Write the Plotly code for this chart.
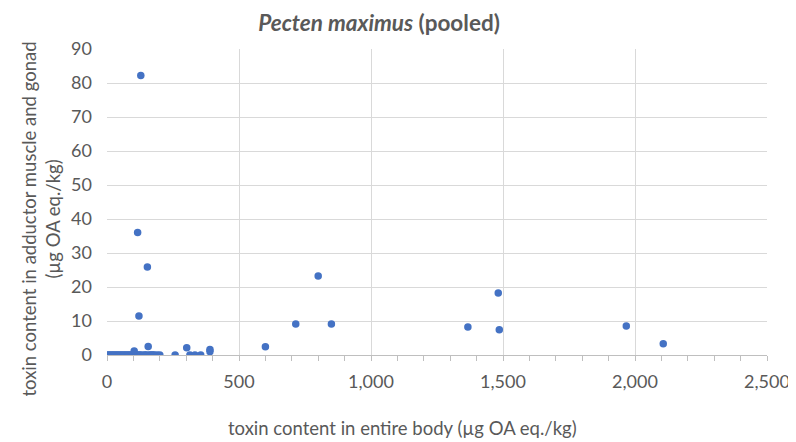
import plotly.graph_objects as go

# Data
entire_body = [0, 5, 10, 15, 20, 25, 30, 35, 40, 45, 50, 55, 60, 65, 70, 75, 80, 85, 90, 95,
               100, 110, 115, 120, 125, 130, 140, 145, 150, 160, 165, 170, 175, 180, 190, 200,
               103, 156, 258, 302, 314, 333, 355, 390, 390, 600,
               128, 116, 153, 121,
               715, 800, 850, 1367, 1482, 1486, 1967, 2107]
adductor_gonad = [0, 0, 0, 0, 0, 0, 0, 0, 0, 0, 0, 0, 0, 0, 0, 0, 0, 0, 0, 0,
                  0, 0, 0, 0, 0, 0, 0, 0, 0, 0, 0, 0, 0, 0, 0, 0,
                  1.2, 2.5, 0, 2.1, 0, 0, 0, 1.6, 1.0, 2.4,
                  82.2, 36.0, 25.9, 11.5,
                  9.1, 23.2, 9.1, 8.2, 18.2, 7.4, 8.5, 3.3]

x_ticks = [0, 500, 1000, 1500, 2000, 2500]
x_tick_labels = ["0", "500", "1,000", "1,500", "2,000", "2,500"]
y_ticks = [0, 10, 20, 30, 40, 50, 60, 70, 80, 90]

title_text = "<b><i>Pecten maximus</i> (pooled)</b>"
x_title = "toxin content in entire body (µg OA eq./kg)"
y_title = "toxin content in adductor muscle and gonad<br>(µg OA eq./kg)"

FONT = "Lato, 'Open Sans', sans-serif"
GRAY = "#595959"
GRID = "#D9D9D9"

fig = go.Figure(go.Scatter(
    x=entire_body, y=adductor_gonad, mode="markers",
    marker=dict(color="#4472C4", size=7.5, line=dict(width=0)),
    showlegend=False,
))

fig.update_layout(
    width=788, height=434,
    margin=dict(l=99, r=29, t=41, b=87),
    paper_bgcolor="white", plot_bgcolor="white",
    font=dict(family=FONT, color=GRAY, size=18),
    title=dict(text=title_text,
               x=371 / 788, xanchor="center", y=1 - 15 / 434, yanchor="middle",
               font=dict(size=22.5, color=GRAY, family=FONT)),
    xaxis=dict(
        range=[0, 2500], tickvals=x_ticks, ticktext=x_tick_labels,
        showgrid=True, gridcolor=GRID, gridwidth=1,
        zeroline=False, showline=True, linecolor="#BFBFBF", linewidth=1,
        ticks="outside", ticklen=5, tickcolor="#BFBFBF",
        minor=dict(dtick=100, ticks="outside", ticklen=5, tickcolor="#BFBFBF", showgrid=False),
        tickfont=dict(size=18, color=GRAY), ticklabelstandoff=5,
        automargin=False,
    ),
    yaxis=dict(
        range=[0, 90], tickvals=y_ticks,
        showgrid=True, gridcolor=GRID, gridwidth=1,
        zeroline=False, showline=False,
        ticks="", ticklabelstandoff=14,
        tickfont=dict(size=18, color=GRAY),
        automargin=False,
    ),
    annotations=[
        dict(text=x_title, xref="paper", yref="paper",
             x=(394 - 99) / 660, y=(347 - 420) / 306,
             xanchor="center", yanchor="middle", showarrow=False,
             font=dict(size=18.5, color=GRAY, family=FONT)),
        dict(text=y_title, xref="paper", yref="paper",
             x=(32.5 - 99) / 660, y=(347 - 211) / 306,
             xanchor="center", yanchor="middle", showarrow=False, textangle=-90,
             font=dict(size=18.5, color=GRAY, family=FONT)),
    ],
)

fig.write_html("out.html")
